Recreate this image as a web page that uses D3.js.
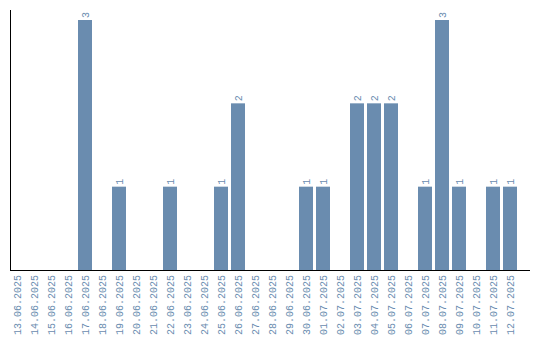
<!DOCTYPE html>
<html><head><meta charset="utf-8">
<script src="https://cdn.jsdelivr.net/npm/d3@7"></script>
<style>body{margin:0;background:#fff}svg{display:block}</style>
</head><body>
<script>
const categories = ["13.06.2025","14.06.2025","15.06.2025","16.06.2025","17.06.2025","18.06.2025","19.06.2025","20.06.2025","21.06.2025","22.06.2025","23.06.2025","24.06.2025","25.06.2025","26.06.2025","27.06.2025","28.06.2025","29.06.2025","30.06.2025","01.07.2025","02.07.2025","03.07.2025","04.07.2025","05.07.2025","06.07.2025","07.07.2025","08.07.2025","09.07.2025","10.07.2025","11.07.2025","12.07.2025"];
const values = [0,0,0,0,3,0,1,0,0,1,0,0,1,2,0,0,0,1,1,0,2,2,2,0,1,3,1,0,1,1];

const W = 540, H = 340;
const color = "#6a8caf";
const font = "Liberation Mono";
const svg = d3.select("body").append("svg").attr("width", W).attr("height", H);

const x = d3.scaleBand().domain(categories).range([10, 517]).paddingInner(3/17).paddingOuter(0);
const y = d3.scaleLinear().domain([0, 3]).range([270, 20]);

svg.append("line").attr("x1", 10.5).attr("x2", 10.5).attr("y1", 10).attr("y2", 270).attr("stroke", "#000");
svg.append("line").attr("x1", 10).attr("x2", 530).attr("y1", 270.5).attr("y2", 270.5).attr("stroke", "#000");

const data = categories.map((c, i) => ({c, v: values[i]}));

svg.selectAll("rect.bar").data(data.filter(d => d.v > 0)).enter().append("rect")
  .attr("class", "bar")
  .attr("x", d => x(d.c)).attr("width", x.bandwidth())
  .attr("y", d => y(d.v)).attr("height", d => y(0) - y(d.v))
  .attr("fill", color);

svg.selectAll("text.val").data(data.filter(d => d.v > 0)).enter().append("text")
  .attr("class", "val")
  .attr("transform", d => `translate(${x(d.c) + x.bandwidth()/2},${y(d.v) - 2}) rotate(-90)`)
  .attr("dy", "0.35em")
  .attr("text-anchor", "start")
  .attr("font-family", font)
  .attr("font-size", 10)
  .attr("fill", color)
  .text(d => d.v);

svg.selectAll("text.tick").data(categories).enter().append("text")
  .attr("class", "tick")
  .attr("transform", d => `translate(${x(d) + x.bandwidth()/2},275) rotate(-90)`)
  .attr("dy", "0.35em")
  .attr("text-anchor", "end")
  .attr("font-family", font)
  .attr("font-size", 10)
  .attr("fill", color)
  .text(d => d);
</script>
</body></html>
